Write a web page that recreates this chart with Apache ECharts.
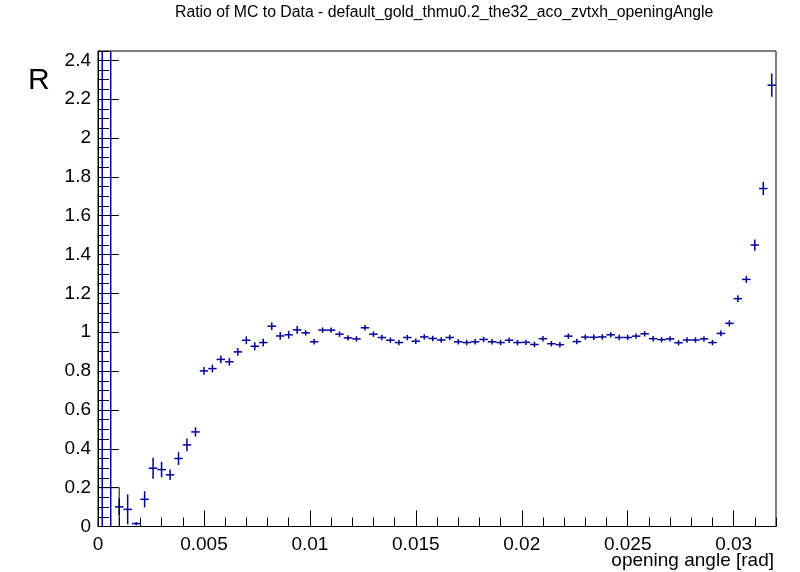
<!DOCTYPE html>
<html>
<head>
<meta charset="utf-8">
<script src="https://cdn.jsdelivr.net/npm/echarts@6/dist/echarts.min.js"></script>
<style>
  html, body { margin: 0; padding: 0; background: #fff; }
  #chart-container { width: 800px; height: 572px; }
</style>
</head>
<body>
<div id="chart-container"></div>
<script>
var dom = document.getElementById('chart-container');
var myChart = echarts.init(dom, null, { renderer: 'canvas' });

var titleText = 'Ratio of MC to Data - default_gold_thmu0.2_the32_aco_zvtxh_openingAngle';
var xName = 'opening angle [rad]';
var yName = 'R';

// 80 bins of 0.0004 rad from 0 to 0.032
var binStart = 0;
var binWidth = 0.0004;
var xMax = 0.032;
var yMax = 2.448;

// ratio per bin (first two bins are off scale)
// prettier-ignore
var ratio = [
  3.0, 3.0, 0.101, 0.088, 0.015, 0.14, 0.30, 0.293, 0.266, 0.35,
  0.42, 0.487, 0.801, 0.813, 0.86, 0.848, 0.899, 0.959, 0.928, 0.947,
  1.031, 0.981, 0.987, 1.012, 0.997, 0.951, 1.011, 1.011, 0.99, 0.971,
  0.966, 1.023, 0.99, 0.973, 0.959, 0.947, 0.973, 0.954, 0.976, 0.968,
  0.96, 0.973, 0.951, 0.947, 0.951, 0.963, 0.951, 0.947, 0.959, 0.947,
  0.948, 0.937, 0.967, 0.941, 0.936, 0.98, 0.952, 0.975, 0.974, 0.976,
  0.987, 0.973, 0.973, 0.98, 0.992, 0.967, 0.962, 0.966, 0.946, 0.96,
  0.96, 0.966, 0.947, 0.994, 1.046, 1.173, 1.272, 1.449, 1.74, 2.272
];
// prettier-ignore
var ratioErr = [
  3.5, 3.5, 0.045, 0.077, 0.008, 0.042, 0.054, 0.04, 0.027, 0.033,
  0.033, 0.024, 0.02, 0.02, 0.02, 0.02, 0.02, 0.02, 0.02, 0.02,
  0.02, 0.02, 0.02, 0.02, 0.014, 0.014, 0.014, 0.014, 0.014, 0.014,
  0.014, 0.014, 0.014, 0.014, 0.014, 0.014, 0.014, 0.014, 0.014, 0.014,
  0.014, 0.014, 0.014, 0.014, 0.014, 0.014, 0.014, 0.014, 0.014, 0.014,
  0.014, 0.014, 0.014, 0.014, 0.014, 0.014, 0.014, 0.014, 0.014, 0.014,
  0.014, 0.014, 0.014, 0.014, 0.014, 0.014, 0.014, 0.014, 0.014, 0.014,
  0.014, 0.014, 0.014, 0.015, 0.016, 0.017, 0.018, 0.029, 0.034, 0.06
];

// small black outline near the origin
var outlineX = [0, 0.001, 0.001];
var outlineY = [0.2, 0.2, 0];

var markColor = '#000099';
var font = 'Liberation Sans';

var points = ratio.map(function (v, i) {
  return [binStart + (i + 0.5) * binWidth, v, ratioErr[i]];
});
var outline = outlineX.map(function (x, i) {
  return [x, outlineY[i]];
});

function renderErrorBar(params, api) {
  var x = api.value(0);
  var y = api.value(1);
  var e = api.value(2);
  var children = [];
  var lo = Math.max(0, y - e);
  var hi = Math.min(yMax, y + e);
  if (hi > lo) {
    var p1 = api.coord([x, lo]);
    var p2 = api.coord([x, hi]);
    children.push({
      type: 'line',
      shape: { x1: p1[0], y1: p1[1], x2: p2[0], y2: p2[1] },
      style: { stroke: markColor, lineWidth: 1.5 }
    });
  }
  if (y >= 0 && y <= yMax) {
    var a = api.coord([Math.max(0, x - binWidth / 2), y]);
    var b = api.coord([x + binWidth / 2, y]);
    children.push({
      type: 'line',
      shape: { x1: a[0], y1: a[1], x2: b[0], y2: b[1] },
      style: { stroke: markColor, lineWidth: 1.5 }
    });
  }
  return { type: 'group', children: children };
}

var option = {
  animation: false,
  backgroundColor: '#fff',
  title: {
    text: titleText,
    left: 175,
    top: 5,
    padding: 0,
    textStyle: { fontFamily: font, fontSize: 15.8, fontWeight: 'normal', color: '#000' }
  },
  graphic: [
    {
      type: 'text',
      left: 28,
      top: 66,
      style: { text: yName, font: '30px "Liberation Sans"', fill: '#000' }
    },
    {
      type: 'text',
      right: 26,
      top: 551,
      style: { text: xName, font: '19px "Liberation Sans"', fill: '#000' }
    }
  ],
  grid: {
    left: 98,
    right: 24,
    top: 51,
    bottom: 45.5,
    show: true,
    borderColor: '#000',
    borderWidth: 1
  },
  xAxis: [
    {
      type: 'value',
      min: 0,
      max: xMax,
      interval: 0.005,
      axisLine: { show: true, onZero: false, lineStyle: { color: '#000', width: 1 } },
      axisTick: { show: true, inside: true, length: 16, lineStyle: { color: '#000' } },
      axisLabel: {
        showMaxLabel: false,
        margin: 9,
        color: '#000',
        fontFamily: font,
        fontSize: 19
      },
      splitLine: { show: false }
    },
    {
      type: 'value',
      position: 'bottom',
      min: 0,
      max: xMax,
      interval: 0.001,
      axisLine: { show: false },
      axisTick: { show: true, inside: true, length: 9, lineStyle: { color: '#000' } },
      axisLabel: { show: false },
      splitLine: { show: false }
    }
  ],
  yAxis: [
    {
      type: 'value',
      min: 0,
      max: yMax,
      interval: 0.2,
      axisLine: { show: true, onZero: false, lineStyle: { color: '#000', width: 1 } },
      axisTick: { show: true, inside: true, length: 21, lineStyle: { color: '#000' } },
      axisLabel: {
        showMaxLabel: false,
        margin: 7,
        color: '#000',
        fontFamily: font,
        fontSize: 19
      },
      splitLine: { show: false }
    },
    {
      type: 'value',
      position: 'left',
      min: 0,
      max: yMax,
      interval: 0.05,
      axisLine: { show: false },
      axisTick: { show: true, inside: true, length: 11, lineStyle: { color: '#000' } },
      axisLabel: { show: false },
      splitLine: { show: false }
    }
  ],
  series: [
    {
      type: 'line',
      data: outline,
      xAxisIndex: 0,
      yAxisIndex: 0,
      symbol: 'none',
      lineStyle: { color: '#000', width: 1 },
      silent: true
    },
    {
      type: 'custom',
      data: points,
      xAxisIndex: 0,
      yAxisIndex: 0,
      renderItem: renderErrorBar,
      encode: { x: 0, y: 1 },
      silent: true
    }
  ]
};

myChart.setOption(option);
window.addEventListener('resize', myChart.resize);
</script>
</body>
</html>
